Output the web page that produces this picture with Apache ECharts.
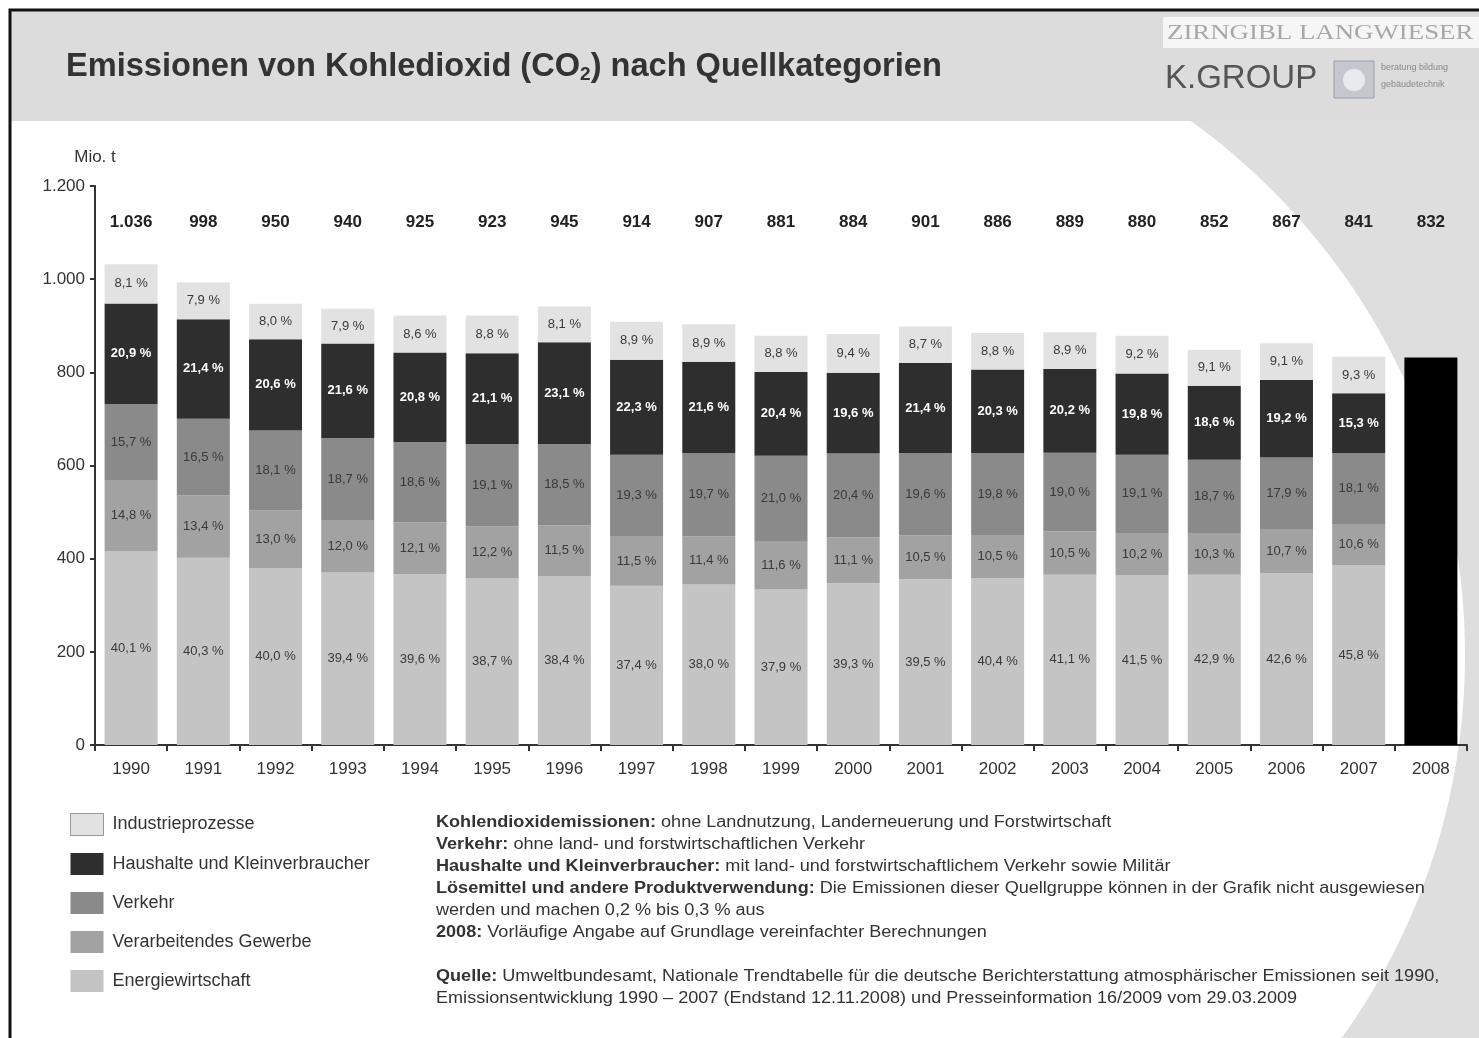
<!DOCTYPE html>
<html><head><meta charset="utf-8">
<script src="https://cdn.jsdelivr.net/npm/echarts@6/dist/echarts.min.js"></script>
<style>html,body{margin:0;padding:0;background:#fff}#c{width:1479px;height:1038px}</style>
</head><body><div id="c"></div>
<script>
// ---- data ----
const years = ['1990','1991','1992','1993','1994','1995','1996','1997','1998','1999','2000','2001','2002','2003','2004','2005','2006','2007','2008'];
const totals = [1036,998,950,940,925,923,945,914,907,881,884,901,886,889,880,852,867,841,832];
// shares in % (1990-2007)
const pctEnergie   = [40.1,40.3,40.0,39.4,39.6,38.7,38.4,37.4,38.0,37.9,39.3,39.5,40.4,41.1,41.5,42.9,42.6,45.8];
const pctGewerbe   = [14.8,13.4,13.0,12.0,12.1,12.2,11.5,11.5,11.4,11.6,11.1,10.5,10.5,10.5,10.2,10.3,10.7,10.6];
const pctVerkehr   = [15.7,16.5,18.1,18.7,18.6,19.1,18.5,19.3,19.7,21.0,20.4,19.6,19.8,19.0,19.1,18.7,17.9,18.1];
const pctHaushalte = [20.9,21.4,20.6,21.6,20.8,21.1,23.1,22.3,21.6,20.4,19.6,21.4,20.3,20.2,19.8,18.6,19.2,15.3];
const pctIndustrie = [8.1,7.9,8.0,7.9,8.6,8.8,8.1,8.9,8.9,8.8,9.4,8.7,8.8,8.9,9.2,9.1,9.1,9.3];
const total2008 = 832;
const seriesNames = ['Energiewirtschaft','Verarbeitendes Gewerbe','Verkehr','Haushalte und Kleinverbraucher','Industrieprozesse'];
const yMin = 0, yMax = 1200, yStep = 200;

// ---- helpers ----
const fmtThousands = v => String(v).replace(/\B(?=(\d{3})+(?!\d))/g, '.');
const fmtPct = v => v.toFixed(1).replace('.', ',') + ' %';
const toMt = pct => pct.map((p, i) => +(totals[i] * p / 100).toFixed(1)).concat(['-']);

const colors = ['#c4c4c4', '#a2a2a2', '#8a8a8a', '#2e2e2e', '#e2e2e2'];
const pcts = [pctEnergie, pctGewerbe, pctVerkehr, pctHaushalte, pctIndustrie];
const FONT = 'Liberation Sans, Arial, sans-serif';

const barSeries = seriesNames.map((name, k) => ({
  name, type: 'bar', stack: 'co2', barWidth: 53,
  data: toMt(pcts[k]),
  itemStyle: { color: colors[k] },
  label: {
    show: true, position: 'inside',
    formatter: p => fmtPct(pcts[k][p.dataIndex]),
    color: k === 3 ? '#ffffff' : '#3a3a3a',
    fontSize: 13, fontFamily: FONT, fontWeight: k === 3 ? 'bold' : 'normal'
  },
  emphasis: { disabled: true }
}));
barSeries.push({
  name: '2008', type: 'bar', stack: 'co2', barWidth: 53,
  data: years.map((y, i) => i === years.length - 1 ? total2008 : '-'),
  itemStyle: { color: '#000' }, emphasis: { disabled: true }
});

const notes =
  '{b|Kohlendioxidemissionen:} ohne Landnutzung, Landerneuerung und Forstwirtschaft\n' +
  '{b|Verkehr:} ohne land- und forstwirtschaftlichen Verkehr\n' +
  '{b|Haushalte und Kleinverbraucher:} mit land- und forstwirtschaftlichem Verkehr sowie Militär\n' +
  '{b|Lösemittel und andere Produktverwendung:} Die Emissionen dieser Quellgruppe können in der Grafik nicht ausgewiesen\n' +
  'werden und machen 0,2 % bis 0,3 % aus\n' +
  '{b|2008:} Vorläufige Angabe auf Grundlage vereinfachter Berechnungen\n' +
  ' \n' +
  '{b|Quelle:} Umweltbundesamt, Nationale Trendtabelle für die deutsche Berichterstattung atmosphärischer Emissionen seit 1990,\n' +
  'Emissionsentwicklung 1990 – 2007 (Endstand 12.11.2008) und Presseinformation 16/2009 vom 29.03.2009';

const chart = echarts.init(document.getElementById('c'), null, { renderer: 'canvas' });
chart.setOption({
  animation: false,
  backgroundColor: '#ffffff',
  title: {
    text: 'Emissionen von Kohledioxid (CO{sub|2}) nach Quellkategorien',
    left: 61, top: 46,
    textStyle: {
      fontFamily: FONT, fontSize: 32.6, fontWeight: 'bold', color: '#333',
      rich: { sub: { fontFamily: FONT, fontSize: 19, fontWeight: 'bold', color: '#333', verticalAlign: 'bottom', padding: [13, 0, 0, 0] } }
    }
  },
  graphic: [
    { type: 'rect', z: -100, shape: { x: 1000, y: 118, width: 479, height: 920 }, style: { fill: '#dedede' } },
    { type: 'ellipse', z: -99, shape: { cx: 800, cy: 655, rx: 665, ry: 660 }, style: { fill: '#ffffff' } },
    { type: 'rect', z: -98, shape: { x: 11, y: 11, width: 1468, height: 110 }, style: { fill: '#dcdcdc' } },
    { type: 'rect', z: -97, shape: { x: 1163, y: 17, width: 316, height: 31 }, style: { fill: '#f6f6f6' } },
    { type: 'rect', z: -96, shape: { x: 10, y: 10, width: 1480, height: 1040 }, style: { fill: 'none', stroke: '#111', lineWidth: 3 } },
    { type: 'text', z: 10, x: 1167, y: 33, scaleX: 1.22, style: { text: 'ZIRNGIBL LANGWIESER', font: '22px "Liberation Serif", serif', fill: '#a8a8a8', verticalAlign: 'middle' } },
    { type: 'text', z: 10, x: 1165, y: 79, style: { text: 'K.GROUP', font: '33px "Liberation Sans", sans-serif', fill: '#555555', verticalAlign: 'middle' } },
    { type: 'rect', z: 10, shape: { x: 1334, y: 61, width: 40, height: 37 }, style: { fill: '#c4c8ce', stroke: '#9aa0a8', lineWidth: 1 } },
    { type: 'circle', z: 11, shape: { cx: 1354, cy: 80, r: 11 }, style: { fill: '#e8eaee' } },
    { type: 'text', z: 10, x: 1381, y: 68, style: { text: 'beratung bildung', font: '9px "Liberation Sans", sans-serif', fill: '#8a8a8a', verticalAlign: 'middle' } },
    { type: 'text', z: 10, x: 1381, y: 85, style: { text: 'gebäudetechnik', font: '9px "Liberation Sans", sans-serif', fill: '#8a8a8a', verticalAlign: 'middle' } },
    { type: 'text', z: 10, x: 436, y: 812, scaleX: 1.13, style: {
        text: notes, font: '16px "Liberation Sans", sans-serif', fill: '#333', lineHeight: 22,
        rich: { b: { fontFamily: 'Liberation Sans', fontSize: 16, fontWeight: 'bold', fill: '#333', lineHeight: 22 } }
    } }
  ],
  legend: {
    orient: 'vertical', left: 70, top: 813, padding: 0,
    itemWidth: 33, itemHeight: 22, itemGap: 17, icon: 'rect',
    data: [
      { name: 'Industrieprozesse', itemStyle: { borderColor: '#999', borderWidth: 1 } },
      { name: 'Haushalte und Kleinverbraucher' },
      { name: 'Verkehr' },
      { name: 'Verarbeitendes Gewerbe' },
      { name: 'Energiewirtschaft' }
    ],
    textStyle: { fontFamily: FONT, fontSize: 18, color: '#333', padding: [0, 0, 0, 4] },
    selectedMode: false
  },
  grid: { left: 95, right: 12, top: 186, bottom: 293, containLabel: false },
  xAxis: [
    {
      type: 'category', data: years, position: 'bottom',
      axisLine: { lineStyle: { color: '#333', width: 2 } },
      axisTick: { show: true, length: 6, lineStyle: { color: '#333', width: 2 } },
      axisLabel: { fontFamily: FONT, fontSize: 17, color: '#333', margin: 16 }
    },
    {
      type: 'category', data: years, position: 'top', offset: -36,
      axisLine: { show: false }, axisTick: { show: false },
      axisLabel: { fontFamily: FONT, fontSize: 17, fontWeight: 'bold', color: '#222', margin: 0, verticalAlign: 'middle',
        formatter: (v, i) => fmtThousands(totals[i]) }
    }
  ],
  yAxis: {
    type: 'value', min: yMin, max: yMax, interval: yStep,
    name: 'Mio. t', nameLocation: 'end', nameGap: 20,
    nameTextStyle: { fontFamily: FONT, fontSize: 17, color: '#333', align: 'center' },
    axisLine: { show: true, lineStyle: { color: '#333', width: 2 } },
    axisTick: { show: true, length: 5, lineStyle: { color: '#333', width: 2 } },
    splitLine: { show: false },
    axisLabel: { fontFamily: FONT, fontSize: 17, color: '#333', margin: 10, formatter: v => fmtThousands(v) }
  },
  series: barSeries
});
</script></body></html>
